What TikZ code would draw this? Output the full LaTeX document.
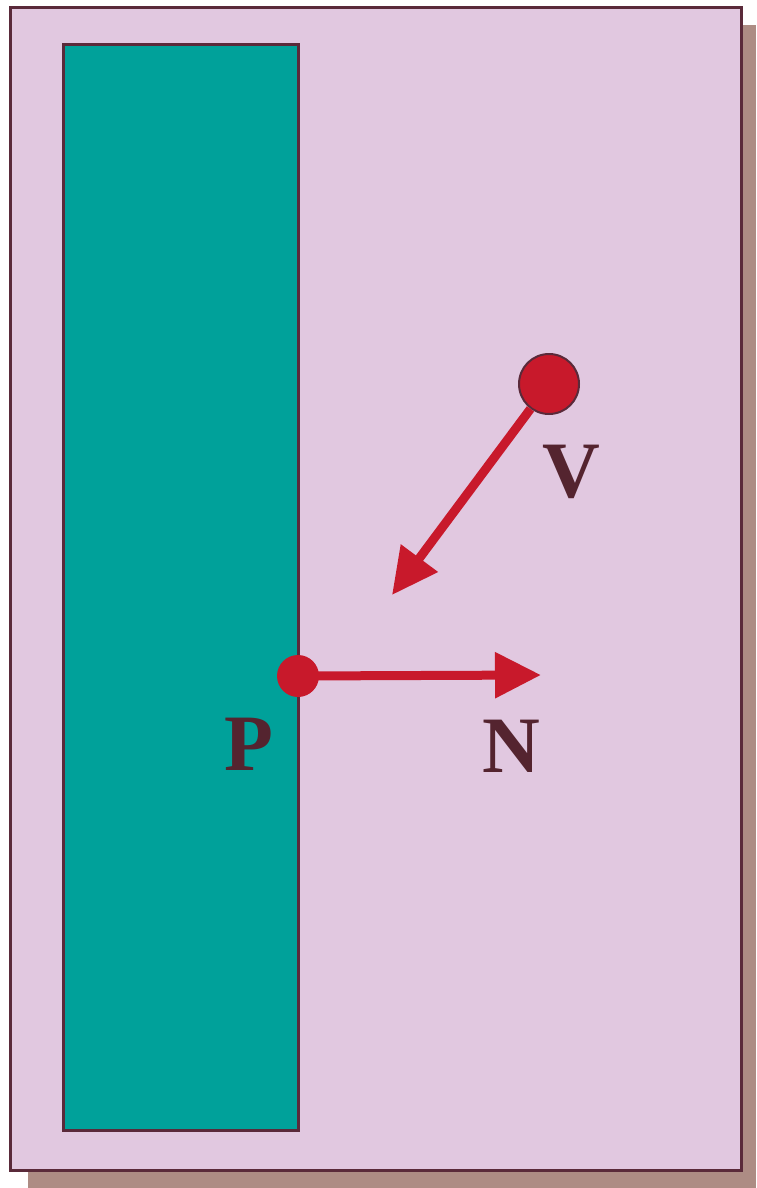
\documentclass[tikz,border=0pt]{standalone}
\usepackage{fontspec}
\setmainfont{Liberation Serif}
\usetikzlibrary{arrows.meta}
\definecolor{bgpink}{HTML}{E1C8E0}
\definecolor{tealw}{HTML}{00A19A}
\definecolor{edge}{HTML}{5A2A3A}
\definecolor{vred}{HTML}{C8192B}
\definecolor{shadowc}{HTML}{AD8C84}
\definecolor{labc}{HTML}{54242F}
\tikzset{
  vec/.style={draw=vred, line width=9pt, -{Triangle[length=46pt,width=44pt]}},
  lab/.style={text=labc, font=\fontsize{80}{80}\selectfont\bfseries, inner sep=0pt},
}
\begin{document}
\begin{tikzpicture}[x=1pt,y=-1pt]
\useasboundingbox (0,0) rectangle (756,1188);
\fill[shadowc] (28,25) rectangle (756,1188);
\draw[fill=bgpink, draw=edge, line width=3pt] (10.5,7.5) rectangle (741.5,1170);
\draw[fill=tealw, draw=edge, line width=3pt] (63.5,44.5) rectangle (298,1130);
\coordinate (vt) at (392,595);
\coordinate (nt) at (541,675);
\node[circle, fill=vred, minimum size=21*2pt, inner sep=0pt] (p) at (298,676) {};
\draw[vec] (p.center) -- (nt);
\node[circle, fill=vred, draw=edge, line width=2pt, minimum size=60pt, inner sep=0pt] (v) at (549,384) {};
\draw[vec] (v) -- (vt);
\node[lab] (lv) at (571,472) {V};
\node[lab] (lp) at (249,744) {P};
\node[lab] (ln) at (511,746) {N};
\end{tikzpicture}
\end{document}
